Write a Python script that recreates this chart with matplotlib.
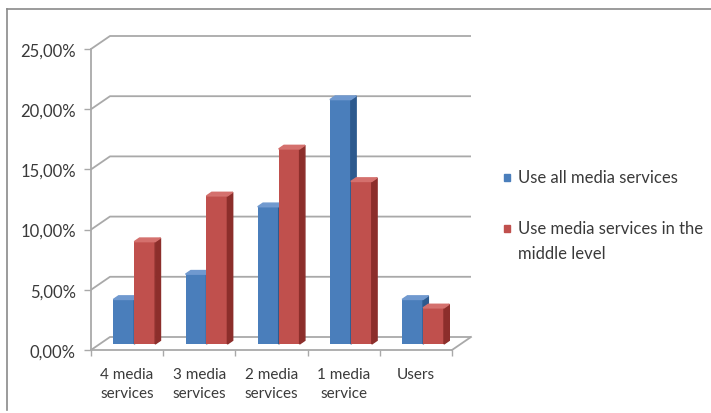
import numpy as np
import matplotlib
matplotlib.use("Agg")
import matplotlib.pyplot as plt
from matplotlib.patches import Polygon, Rectangle
from matplotlib.lines import Line2D

plt.rcParams['font.family'] = ['Lato', 'DejaVu Sans']

categories = ["4 media\nservices", "3 media\nservices", "2 media\nservices", "1 media\nservice", "Users"]
all_media = [3.7, 5.8, 11.4, 20.3, 3.7]       # Use all media services, %
middle_level = [8.5, 12.3, 16.2, 13.5, 3.0]   # Use media services in the middle level, %
series_names = ["Use all media services", "Use media services in the\nmiddle level"]
yticks = [0, 5, 10, 15, 20, 25]
ytick_labels = ["0,00%", "5,00%", "10,00%", "15,00%", "20,00%", "25,00%"]

W, H = 711, 414
fig = plt.figure(figsize=(W / 100, H / 100), dpi=100)
fig.patch.set_facecolor("white")
txt_c = "#3a3a3a"

# axes placed so the front plane maps onto the reference pixels
x0, x1, y0, y1 = 91, 452, 351, 50
ax = fig.add_axes([x0 / W, 1 - y0 / H, (x1 - x0) / W, (y0 - y1) / H])
ax.set_xlim(0, 5)
ax.set_ylim(0, 25)
ax.patch.set_alpha(0)

# fake 3d depth (in data units)
dx, dy = 0.263, 1.08
d0, dd = 0.46, 0.28
grid_c = "#a9a9a9"

for v in yticks:
    ax.plot([0, dx, 5 + dx], [v, v + dy, v + dy], color=grid_c, lw=1.3,
            clip_on=False, zorder=1, solid_capstyle="butt")
ax.plot([5, 5 + dx], [0, dy], color=grid_c, lw=1.3, clip_on=False, zorder=1)

for s in ["top", "right"]:
    ax.spines[s].set_visible(False)
for s in ["left", "bottom"]:
    ax.spines[s].set_color(grid_c)
    ax.spines[s].set_linewidth(1.3)

ax.set_yticks(yticks)
ax.set_yticklabels(ytick_labels)
ax.tick_params(axis="y", length=5, width=1, color=grid_c, pad=6,
               labelsize=12, labelcolor=txt_c)
ax.set_xticks(np.arange(5) + 0.5)
ax.set_xticklabels(categories, linespacing=1.5)
ax.set_xticks(np.arange(6), minor=True)
ax.tick_params(axis="x", which="major", length=0, pad=12,
               labelsize=11, labelcolor=txt_c)
ax.tick_params(axis="x", which="minor", length=4, width=1, color=grid_c)

bw = 0.29
styles = [("#4a7ebb", "#2d5a8e", "#7099cf"), ("#c0504d", "#8c2e2b", "#d4706d")]
idx = np.arange(len(categories))
for k, vals in enumerate([all_media, middle_level]):
    front, side, top = styles[k]
    left = idx + 0.188 + k * bw + d0 * dx
    base = d0 * dy
    ax.bar(left, vals, width=bw, bottom=base, align="edge", color=front,
           edgecolor="none", zorder=3 + k * 2, clip_on=False)
    for xl, v in zip(left, vals):
        xr = xl + bw
        t = base + v
        ax.add_patch(Polygon([(xr, base), (xr + dd * dx, base + dd * dy),
                              (xr + dd * dx, t + dd * dy), (xr, t)],
                             closed=True, color=side, zorder=3 + k * 2, clip_on=False))
        ax.add_patch(Polygon([(xl, t), (xr, t), (xr + dd * dx, t + dd * dy),
                              (xl + dd * dx, t + dd * dy)],
                             closed=True, color=top, zorder=3 + k * 2, clip_on=False))

# legend drawn by hand to match the layout
leg_y = [178, 229]
for k, name in enumerate(series_names):
    yc = leg_y[k]
    fig.patches.append(Rectangle(((507 - 3.5) / W, 1 - (yc + 3.5) / H), 7 / W, 7 / H,
                                 transform=fig.transFigure, color=styles[k][0]))
    for j, line in enumerate(name.split("\n")):
        fig.text(518 / W, 1 - (yc + 25 * j) / H, line, ha="left", va="center",
                 fontsize=12, color=txt_c)

# chart frame
fig.add_artist(Line2D([7 / W, 7 / W], [1 - 10 / H, 1 - 411 / H], color="#8a8a8a", lw=1.2))
fig.add_artist(Line2D([7 / W, 1], [1 - 10 / H, 1 - 10 / H], color="#8a8a8a", lw=1.2))

fig.savefig("out.png", dpi=100)
